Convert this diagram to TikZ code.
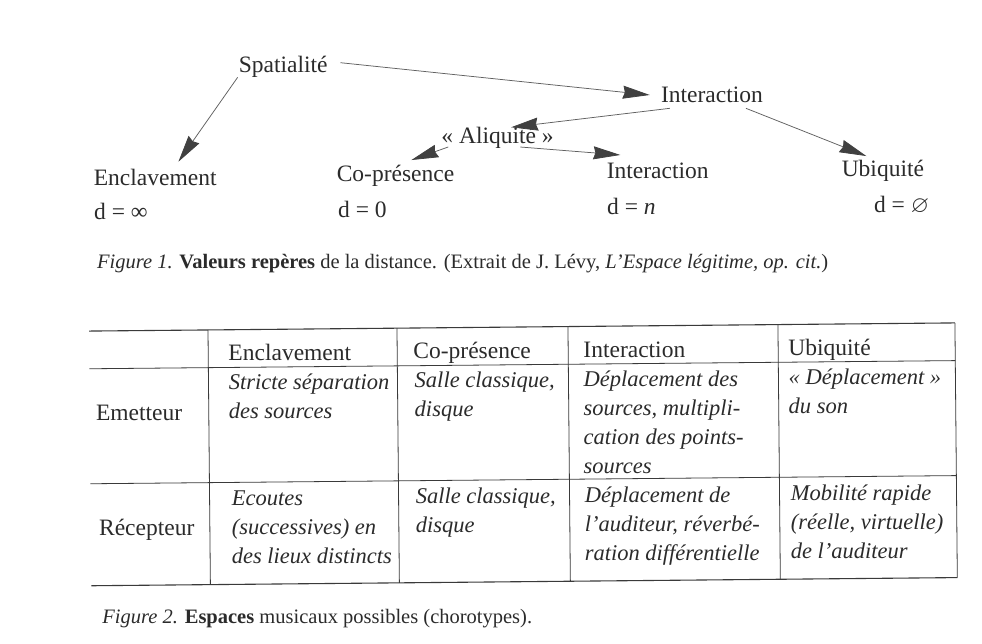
\documentclass[tikz,border=0pt]{standalone}
\usepackage{amssymb}
\usepackage{fontspec}
\setmainfont{Liberation Serif}
\usetikzlibrary{arrows.meta}
\definecolor{ink}{HTML}{2B2B2B}
\definecolor{linec}{HTML}{606060}
\definecolor{tipc}{HTML}{404040}
\definecolor{rulec}{HTML}{3A3A3A}
\newcommand\cellx[1]{\begin{tabular}[t]{@{}l@{}}#1\end{tabular}}
\tikzset{
  txt/.style={inner sep=0pt, anchor=base west, text=ink, font=\fontsize{23.5}{29}\selectfont},
  itxt/.style={inner sep=0pt, anchor=base west, text=ink, font=\fontsize{22.5}{29}\selectfont\itshape},
  captxt/.style={inner sep=0pt, anchor=base west, text=ink, font=\fontsize{20.5}{24}\selectfont},
  arr/.style={draw=linec, line width=0.75pt, -{Stealth[length=27pt,width=13pt,inset=2pt,color=tipc,fill=tipc]}},
  tabrule/.style={draw=rulec, line width=1.1pt},
  tabline/.style={draw=rulec, line width=0.8pt}
}
\begin{document}
\begin{tikzpicture}[x=1pt,y=1pt]
\useasboundingbox[fill=white] (0,0) rectangle (982,-644);
\begin{scope}[rotate around={0.54:(490,-330)}]
% ---------- Figure 1 ----------
\node[txt] (sp)    at (241,-70)  {Spatialité};
\node[txt] (inter) at (663,-104.5) {Interaction};
\node[txt] (aliq)  at (443,-143) {«~Aliquité~»};
\node[txt] (encl)  at (95,-182)  {Enclavement};
\node[txt] (copr)  at (338,-180) {Co-présence};
\node[txt] (intl)  at (608,-180) {Interaction};
\node[txt] (ubiq)  at (843,-180) {Ubiquité};
\node[txt] (d1) at (95,-216)  {d = ∞};
\node[txt] (d2) at (339,-216) {d = 0};
\node[txt] (d3) at (608,-216) {d = \textit{n}};
\node[txt] (d4) at (875,-216) {d = $\varnothing$};

\coordinate (a1s) at (240,-75);    \coordinate (a1e) at (180,-158.8);
\coordinate (a2s) at (343,-61.3);  \coordinate (a2e) at (652,-96.5);
\coordinate (a3s) at (672,-110);   \coordinate (a3e) at (513,-127.5);
\coordinate (a4s) at (450,-146.6); \coordinate (a4e) at (413,-159.3);
\coordinate (a5s) at (522,-147.3); \coordinate (a5e) at (622,-156.2);
\coordinate (a6s) at (748,-110.7); \coordinate (a6e) at (868,-159.6);
\draw[arr] (a1s) -- (a1e);
\draw[arr] (a2s) -- (a2e);
\draw[arr] (a3s) -- (a3e);
\draw[arr] (a4s) -- (a4e);
\draw[arr] (a5s) -- (a5e);
\draw[arr] (a6s) -- (a6e);

\node[captxt] (cap1) at (97.5,-265) {\textit{Figure 1.} \textbf{Valeurs repères} de la distance. (Extrait de J. Lévy, \textit{L’Espace légitime, op. cit.})};

% ---------- Figure 2 (table) ----------
\coordinate (tl) at (89,-327.3);  \coordinate (tr) at (955,-327.3);
\coordinate (hl) at (89,-365);    \coordinate (hr) at (955,-365);
\coordinate (ml) at (89,-480);    \coordinate (mr) at (955,-480);
\coordinate (bl) at (89,-582);    \coordinate (br) at (955,-582);
\draw[tabrule] (tl) -- (tr);
\draw[tabline] (hl) -- (hr);
\draw[tabline] (ml) -- (mr);
\draw[tabrule] (bl) -- (br);
\foreach \xx/\nm in {208/v1,397/v2,568/v3,778/v4}{
  \coordinate (\nm t) at (\xx,-327.3); \coordinate (\nm b) at (\xx,-582);
  \draw[tabline] (\nm t) -- (\nm b);
}
\draw[tabline] (tr) -- (br);

\node[txt] (h1) at (228,-358) {Enclavement};
\node[txt] (h2) at (413,-358) {Co-présence};
\node[txt] (h3) at (583,-358) {Interaction};
\node[txt] (h4) at (788,-358) {Ubiquité};

\node[txt] (r1) at (95,-417) {Emetteur};
\node[txt] (r2) at (97,-532) {Récepteur};

\node[itxt] (c11) at (228,-387) {\cellx{Stricte séparation\\des sources}};
\node[itxt] (c12) at (414,-387) {\cellx{Salle classique,\\disque}};
\node[itxt] (c13) at (583,-387) {\cellx{Déplacement des\\sources, multipli-\\cation des points-\\sources}};
\node[itxt] (c14) at (788,-387) {\cellx{«~Déplacement~»\\du son}};

\node[itxt] (c21) at (230,-503) {\cellx{Ecoutes\\(successives) en\\des lieux distincts}};
\node[itxt] (c22) at (414,-503) {\cellx{Salle classique,\\disque}};
\node[itxt] (c23) at (583,-503) {\cellx{Déplacement de\\l’auditeur, réverbé-\\ration différentielle}};
\node[itxt] (c24) at (789,-503) {\cellx{Mobilité rapide\\(réelle, virtuelle)\\de l’auditeur}};

\node[captxt] (cap2) at (99.5,-620) {\textit{Figure 2.} \textbf{Espaces} musicaux possibles (chorotypes).};
\end{scope}
\end{tikzpicture}
\end{document}
